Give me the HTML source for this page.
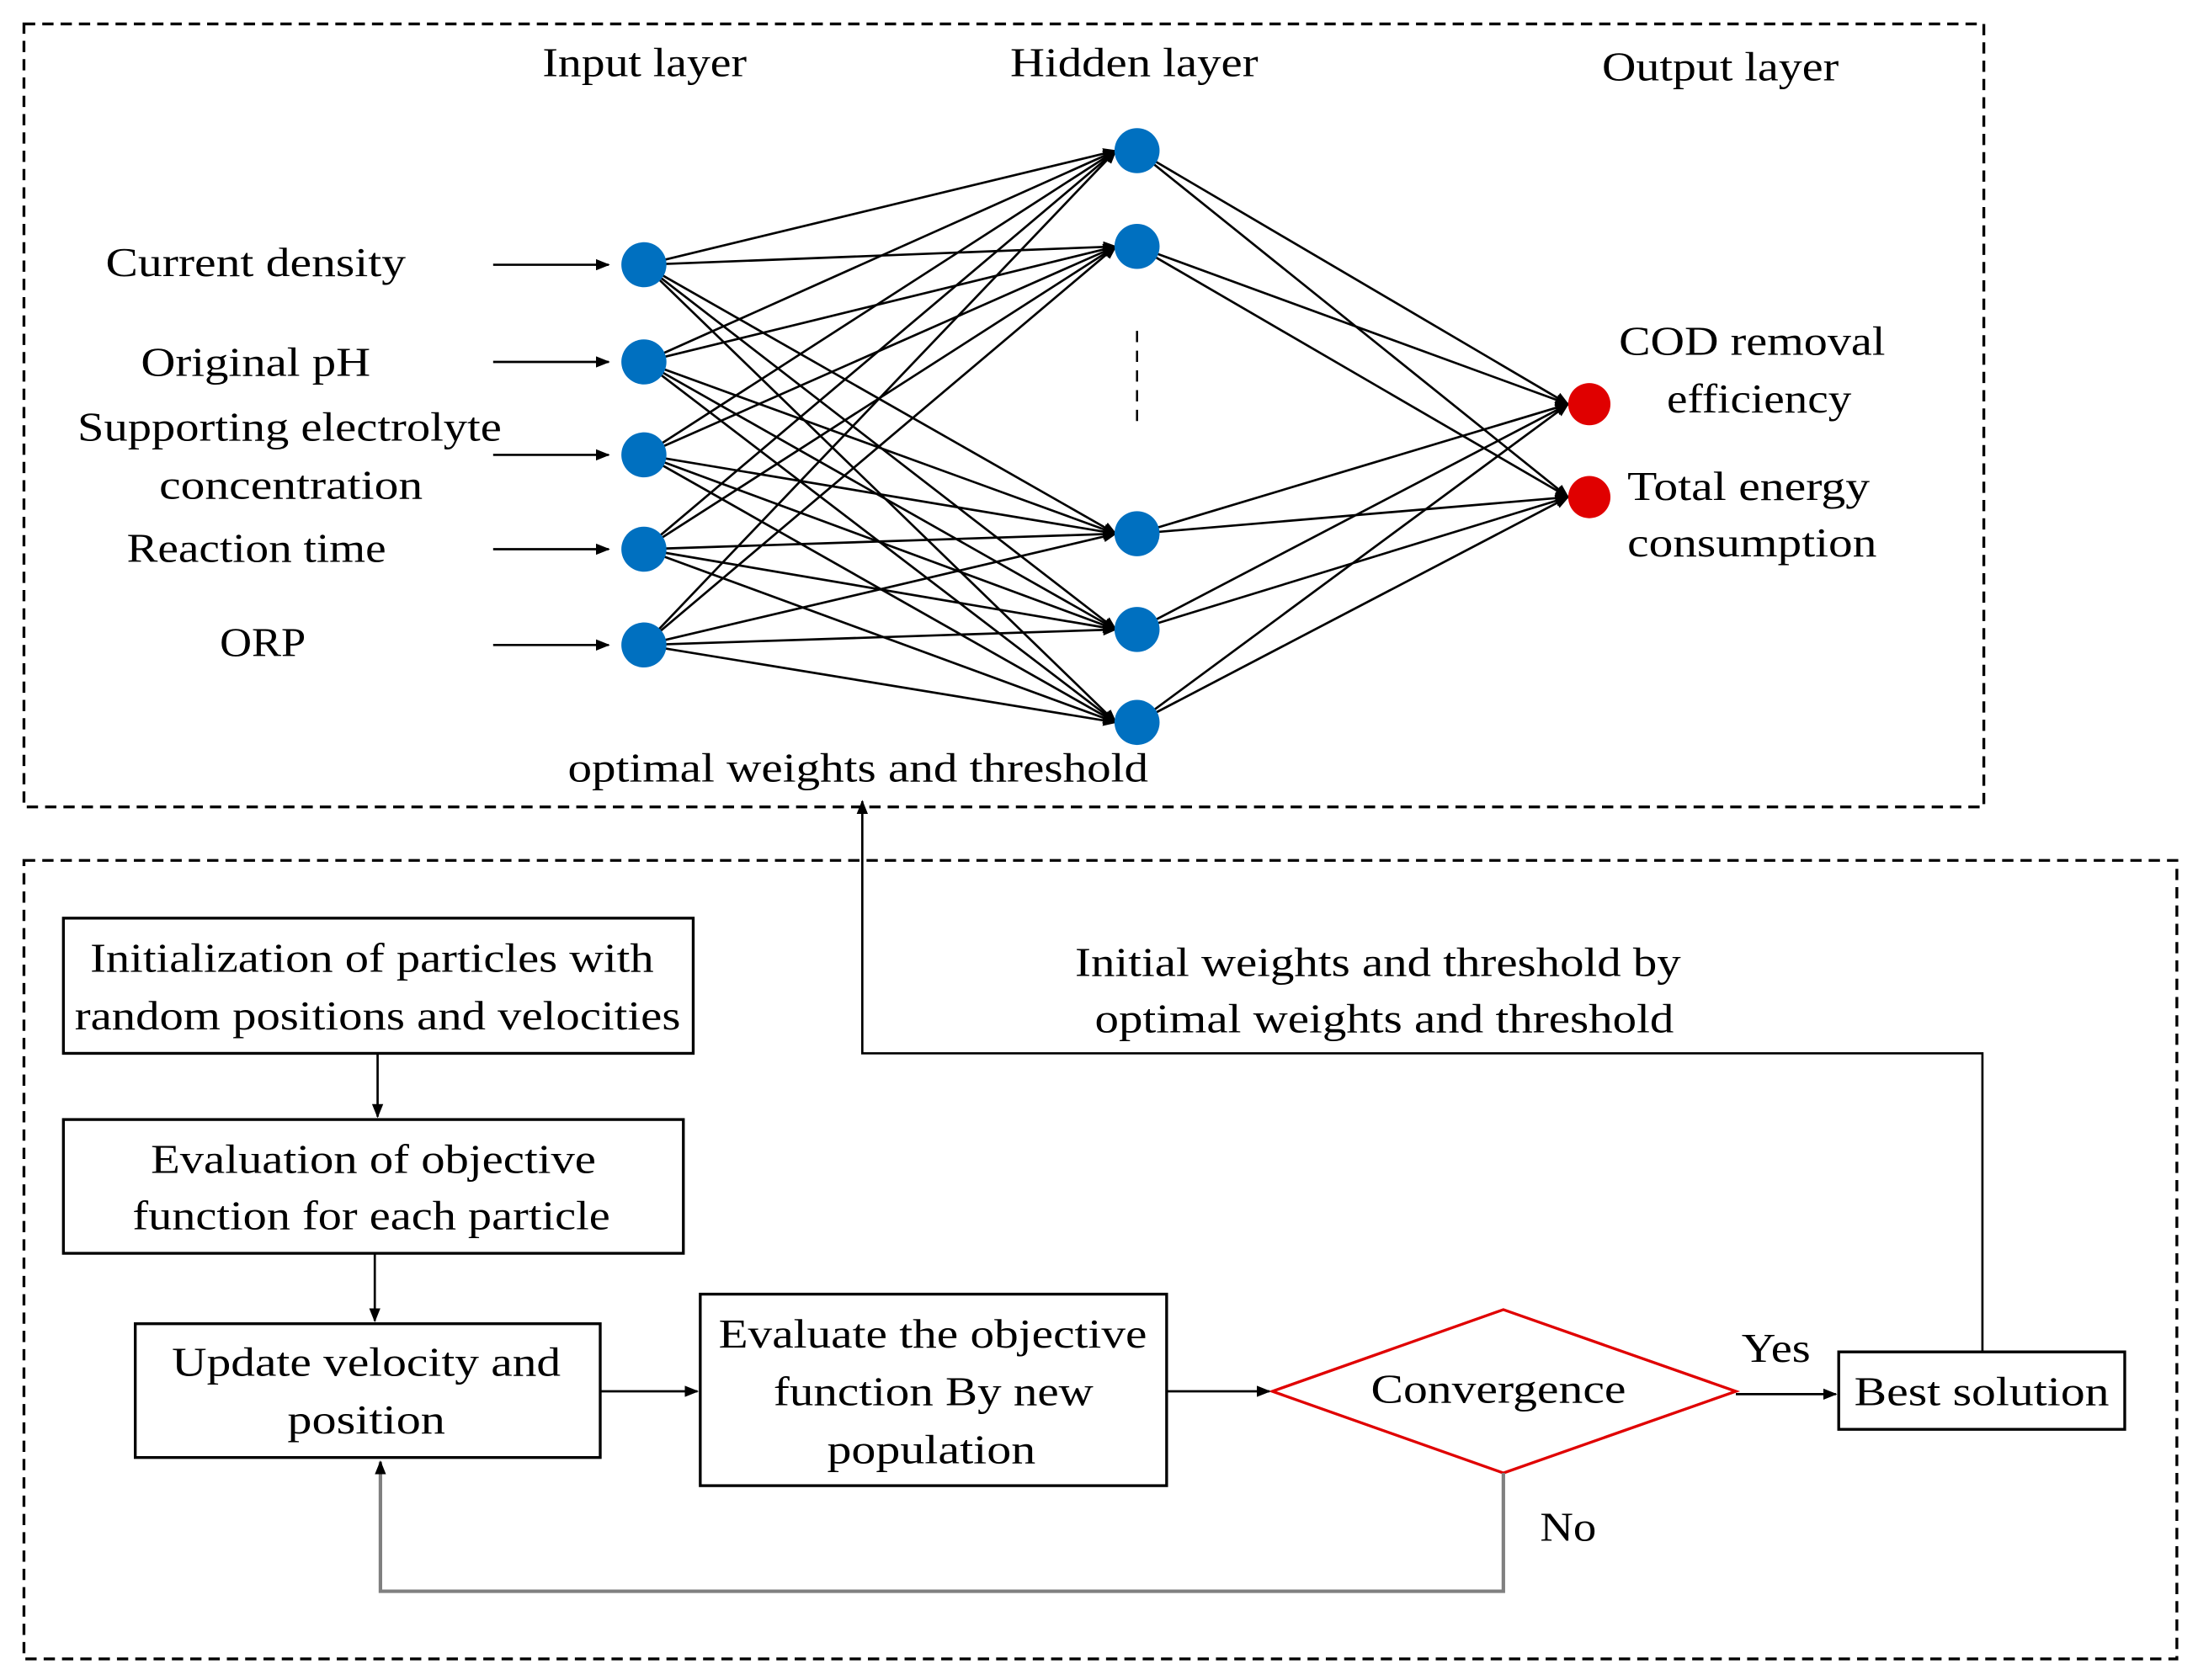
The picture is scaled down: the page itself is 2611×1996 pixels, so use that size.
<!DOCTYPE html>
<html><head><meta charset="utf-8"><style>html,body{margin:0;padding:0;background:#fff}svg{display:block}</style></head>
<body>
<svg width="2611" height="1996" viewBox="0 0 1560 1193" preserveAspectRatio="none" xmlns="http://www.w3.org/2000/svg" font-family="Liberation Serif, serif" font-size="29" fill="#000">
<defs>
<marker id="a" markerWidth="10" markerHeight="8" refX="9" refY="4" orient="auto" markerUnits="userSpaceOnUse"><path d="M0,0 L10,4 L0,8 Z" fill="#000"/></marker>
</defs>
<g fill="none" stroke="#000" stroke-width="2" stroke-dasharray="8,5">
<rect x="17" y="17" width="1391" height="556"/>
<rect x="17" y="611" width="1528" height="567"/>
</g>
<g lengthAdjust="spacingAndGlyphs">
<text x="385" y="54" textLength="145" lengthAdjust="spacingAndGlyphs">Input layer</text>
<text x="717" y="54" textLength="176" lengthAdjust="spacingAndGlyphs">Hidden layer</text>
<text x="1137" y="57" textLength="168" lengthAdjust="spacingAndGlyphs">Output layer</text>
<text x="75" y="196" textLength="213" lengthAdjust="spacingAndGlyphs">Current  density</text>
<text x="100" y="267" textLength="163" lengthAdjust="spacingAndGlyphs">Original  pH</text>
<text x="55" y="313" textLength="301" lengthAdjust="spacingAndGlyphs">Supporting electrolyte</text>
<text x="113" y="354" textLength="187" lengthAdjust="spacingAndGlyphs">concentration</text>
<text x="90" y="399" textLength="184" lengthAdjust="spacingAndGlyphs">Reaction time</text>
<text x="156" y="466" textLength="61" lengthAdjust="spacingAndGlyphs">ORP</text>
<text x="1149" y="252" textLength="189" lengthAdjust="spacingAndGlyphs">COD  removal</text>
<text x="1183" y="293" textLength="131" lengthAdjust="spacingAndGlyphs">efficiency</text>
<text x="1155" y="355" textLength="172" lengthAdjust="spacingAndGlyphs">Total energy</text>
<text x="1155" y="395" textLength="177" lengthAdjust="spacingAndGlyphs">consumption</text>
<text x="403" y="555" textLength="412" lengthAdjust="spacingAndGlyphs">optimal  weights and threshold</text>
<text x="763" y="693" textLength="430" lengthAdjust="spacingAndGlyphs">Initial  weights and threshold by</text>
<text x="777" y="733" textLength="411" lengthAdjust="spacingAndGlyphs">optimal  weights and threshold</text>
<text x="64" y="690" textLength="400" lengthAdjust="spacingAndGlyphs">Initialization  of particles with</text>
<text x="53" y="731" textLength="430" lengthAdjust="spacingAndGlyphs">random positions and velocities</text>
<text x="107" y="833" textLength="316" lengthAdjust="spacingAndGlyphs">Evaluation of objective</text>
<text x="94" y="873" textLength="339" lengthAdjust="spacingAndGlyphs">function for each particle</text>
<text x="122" y="977" textLength="276" lengthAdjust="spacingAndGlyphs">Update velocity and</text>
<text x="204" y="1018" textLength="112" lengthAdjust="spacingAndGlyphs">position</text>
<text x="510" y="957" textLength="304" lengthAdjust="spacingAndGlyphs">Evaluate the objective</text>
<text x="549" y="998" textLength="227" lengthAdjust="spacingAndGlyphs">function By new</text>
<text x="587" y="1039" textLength="148" lengthAdjust="spacingAndGlyphs">population</text>
<text x="973" y="996" textLength="181" lengthAdjust="spacingAndGlyphs">Convergence</text>
<text x="1316" y="998" textLength="181" lengthAdjust="spacingAndGlyphs">Best solution</text>
<text x="1236" y="967" textLength="49" lengthAdjust="spacingAndGlyphs">Yes</text>
<text x="1093" y="1094" textLength="40" lengthAdjust="spacingAndGlyphs">No</text>
</g>
<g stroke="#000" stroke-width="1.6" marker-end="url(#a)">
<line x1="350" y1="188" x2="432" y2="188"/>
<line x1="350" y1="257" x2="432" y2="257"/>
<line x1="350" y1="323" x2="432" y2="323"/>
<line x1="350" y1="390" x2="432" y2="390"/>
<line x1="350" y1="458" x2="432" y2="458"/>
</g>
<g stroke="#000" stroke-width="1.6" marker-end="url(#a)">
<line x1="457" y1="188" x2="792" y2="107"/><line x1="457" y1="188" x2="792" y2="175"/><line x1="457" y1="188" x2="792" y2="379"/><line x1="457" y1="188" x2="792" y2="447"/><line x1="457" y1="188" x2="792" y2="513"/>
<line x1="457" y1="257" x2="792" y2="107"/><line x1="457" y1="257" x2="792" y2="175"/><line x1="457" y1="257" x2="792" y2="379"/><line x1="457" y1="257" x2="792" y2="447"/><line x1="457" y1="257" x2="792" y2="513"/>
<line x1="457" y1="323" x2="792" y2="107"/><line x1="457" y1="323" x2="792" y2="175"/><line x1="457" y1="323" x2="792" y2="379"/><line x1="457" y1="323" x2="792" y2="447"/><line x1="457" y1="323" x2="792" y2="513"/>
<line x1="457" y1="390" x2="792" y2="107"/><line x1="457" y1="390" x2="792" y2="175"/><line x1="457" y1="390" x2="792" y2="379"/><line x1="457" y1="390" x2="792" y2="447"/><line x1="457" y1="390" x2="792" y2="513"/>
<line x1="457" y1="458" x2="792" y2="107"/><line x1="457" y1="458" x2="792" y2="175"/><line x1="457" y1="458" x2="792" y2="379"/><line x1="457" y1="458" x2="792" y2="447"/><line x1="457" y1="458" x2="792" y2="513"/>
<line x1="807" y1="107" x2="1113" y2="287"/><line x1="807" y1="107" x2="1113" y2="353"/>
<line x1="807" y1="175" x2="1113" y2="287"/><line x1="807" y1="175" x2="1113" y2="353"/>
<line x1="807" y1="379" x2="1113" y2="287"/><line x1="807" y1="379" x2="1113" y2="353"/>
<line x1="807" y1="447" x2="1113" y2="287"/><line x1="807" y1="447" x2="1113" y2="353"/>
<line x1="807" y1="513" x2="1113" y2="287"/><line x1="807" y1="513" x2="1113" y2="353"/>
</g>
<line x1="807" y1="235" x2="807" y2="300" stroke="#000" stroke-width="1.5" stroke-dasharray="8,6"/>
<g fill="#0070c0">
<circle cx="457" cy="188" r="16"/><circle cx="457" cy="257" r="16"/><circle cx="457" cy="323" r="16"/><circle cx="457" cy="390" r="16"/><circle cx="457" cy="458" r="16"/>
<circle cx="807" cy="107" r="16"/><circle cx="807" cy="175" r="16"/><circle cx="807" cy="379" r="16"/><circle cx="807" cy="447" r="16"/><circle cx="807" cy="513" r="16"/>
</g>
<g fill="#e00000"><circle cx="1128" cy="287" r="15"/><circle cx="1128" cy="353" r="15"/></g>
<g fill="none" stroke="#000" stroke-width="2">
<rect x="45" y="652" width="447" height="96"/>
<rect x="45" y="795" width="440" height="95"/>
<rect x="96" y="940" width="330" height="95"/>
<rect x="497" y="919" width="331" height="136"/>
<rect x="1305" y="960" width="203" height="55"/>
</g>
<polygon points="903,988 1067,930 1232,988 1067,1046" fill="none" stroke="#e00000" stroke-width="2"/>
<g fill="none" stroke="#000" stroke-width="1.6">
<polyline points="1407,960 1407,748 612,748 612,569" marker-end="url(#a)"/>
<line x1="268" y1="748" x2="268" y2="793" marker-end="url(#a)"/>
<line x1="266" y1="890" x2="266" y2="938" marker-end="url(#a)"/>
<line x1="426" y1="988" x2="495" y2="988" marker-end="url(#a)"/>
<line x1="828" y1="988" x2="901" y2="988" marker-end="url(#a)"/>
<line x1="1232" y1="990" x2="1303" y2="990" marker-end="url(#a)"/>
</g>
<polyline points="1067,1046 1067,1130 270,1130 270,1038" fill="none" stroke="#808080" stroke-width="2.5" marker-end="url(#a)"/>
</svg>
</body></html>
